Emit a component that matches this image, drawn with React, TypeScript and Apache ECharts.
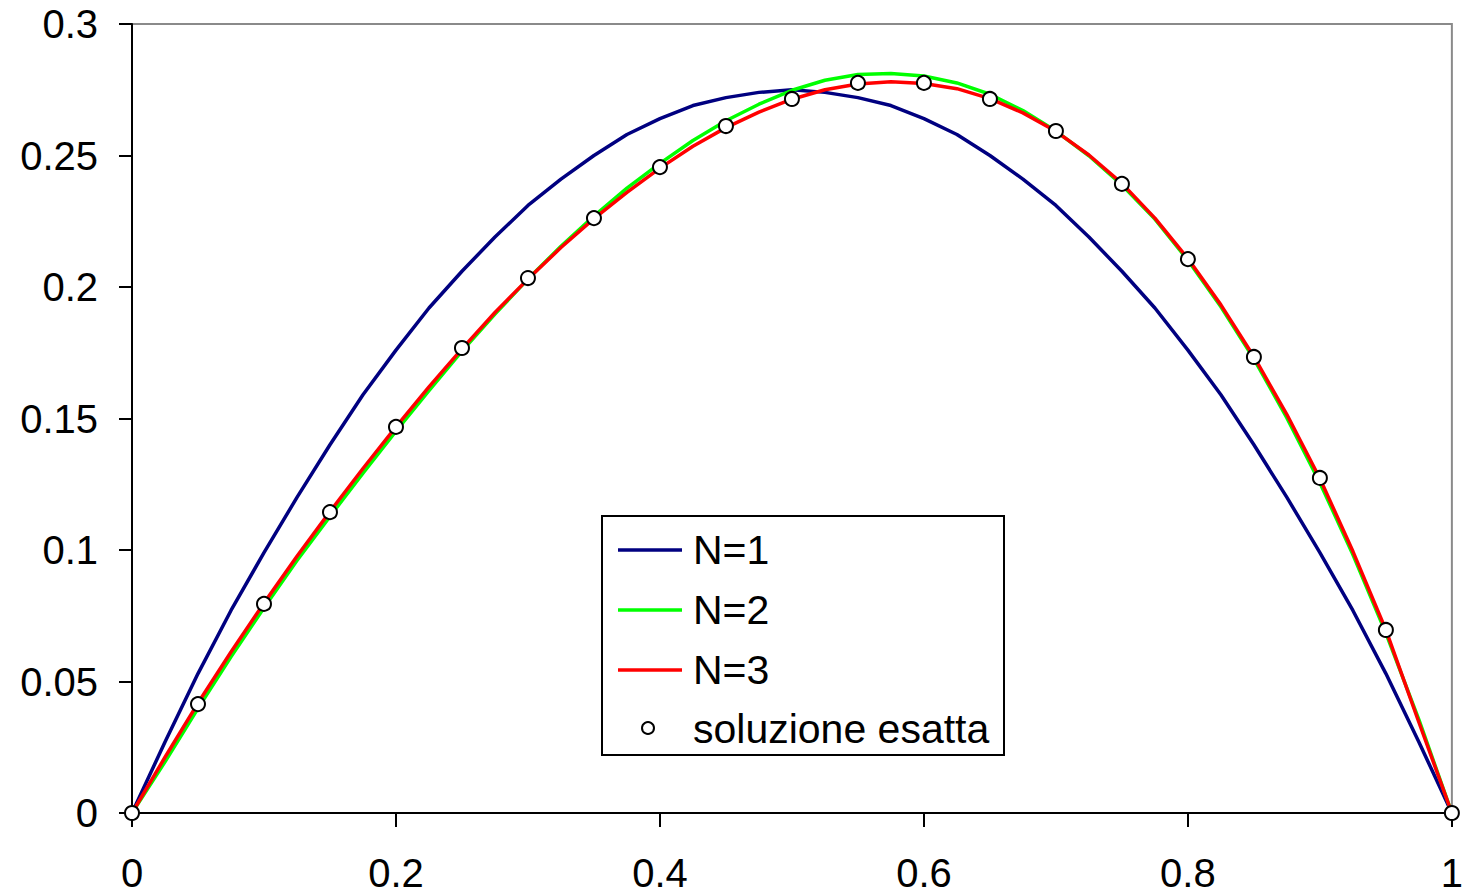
import React, { useEffect, useRef } from "react";
import * as echarts from "echarts";

const xs = [
  0, 0.025, 0.05, 0.075, 0.1, 0.125, 0.15, 0.175, 0.2, 0.225, 0.25, 0.275, 0.3, 0.325, 0.35, 0.375, 0.4,
  0.425, 0.45, 0.475, 0.5, 0.525, 0.55, 0.575, 0.6, 0.625, 0.65, 0.675, 0.7, 0.725, 0.75, 0.775, 0.8,
  0.825, 0.85, 0.875, 0.9, 0.925, 0.95, 0.975, 1,
];

const n1 = [
  0, 0.027, 0.053, 0.077, 0.099, 0.12, 0.14, 0.159, 0.176, 0.192, 0.206, 0.219, 0.231, 0.241, 0.25, 0.258,
  0.264, 0.269, 0.272, 0.274, 0.275, 0.274, 0.272, 0.269, 0.264, 0.258, 0.25, 0.241, 0.231, 0.219, 0.206,
  0.192, 0.176, 0.159, 0.14, 0.12, 0.099, 0.077, 0.053, 0.027, 0,
];

const n2 = [
  0, 0.0195, 0.0398, 0.0594, 0.078, 0.096, 0.1128, 0.1292, 0.1452, 0.1606, 0.1756, 0.1897, 0.203, 0.2155,
  0.227, 0.2376, 0.247, 0.2557, 0.2632, 0.2695, 0.2748, 0.2786, 0.2808, 0.2812, 0.2802, 0.2776, 0.2733,
  0.2671, 0.2593, 0.2499, 0.2388, 0.2258, 0.2102, 0.1925, 0.1727, 0.1502, 0.1256, 0.0983, 0.0684, 0.0355, 0,
];

const n3 = [
  0, 0.0212, 0.0418, 0.0612, 0.0798, 0.0976, 0.1146, 0.131, 0.1468, 0.162, 0.1765, 0.1903, 0.203, 0.215,
  0.226, 0.236, 0.2452, 0.2535, 0.2606, 0.2665, 0.2714, 0.275, 0.2772, 0.278, 0.2774, 0.2754, 0.2716,
  0.2662, 0.2592, 0.2502, 0.2394, 0.2262, 0.2108, 0.1932, 0.1735, 0.1515, 0.1272, 0.0995, 0.0696, 0.0345, 0,
];

const exactX = [0, 0.05, 0.1, 0.15, 0.2, 0.25, 0.3, 0.35, 0.4, 0.45, 0.5, 0.55, 0.6, 0.65, 0.7, 0.75, 0.8, 0.85, 0.9, 0.95, 1];
const exactY = [
  0, 0.0414, 0.0795, 0.1144, 0.1468, 0.1768, 0.2034, 0.2262, 0.2456, 0.2612, 0.2715, 0.2776, 0.2776,
  0.2715, 0.2593, 0.2392, 0.2106, 0.1734, 0.1274, 0.0696, 0,
];

const seriesNames = ["N=1", "N=2", "N=3", "soluzione esatta"];
const seriesColors = ["#000080", "#00ff00", "#ff0000"];

const FONT = "'Liberation Sans', Arial, sans-serif";

export default function App() {
  const ref = useRef<HTMLDivElement>(null);

  useEffect(() => {
    if (!ref.current) return;
    const chart = echarts.init(ref.current, undefined, { renderer: "svg" });
    const lines = [n1, n2, n3];

    const legendX = 602;
    const legendY = 516;
    const rowY = [550, 610, 670, 729];

    const legendGraphics: any[] = [
      {
        type: "rect",
        shape: { x: legendX, y: legendY, width: 402, height: 239 },
        style: { fill: "#fff", stroke: "#000", lineWidth: 2 },
        z: 100,
      },
    ];
    for (let i = 0; i < 3; i++) {
      legendGraphics.push({
        type: "line",
        shape: { x1: 618, y1: rowY[i], x2: 682, y2: rowY[i] },
        style: { stroke: seriesColors[i], lineWidth: 3.5 },
        z: 101,
      });
    }
    legendGraphics.push({
      type: "circle",
      shape: { cx: 648, cy: rowY[3] - 1, r: 6 },
      style: { fill: "#fff", stroke: "#000", lineWidth: 2 },
      z: 101,
    });
    for (let i = 0; i < 4; i++) {
      legendGraphics.push({
        type: "text",
        x: 693,
        y: rowY[i],
        style: {
          text: seriesNames[i],
          fill: "#000",
          font: `41px ${FONT}`,
          verticalAlign: "middle",
          align: "left",
        },
        z: 102,
      });
    }

    chart.setOption({
      animation: false,
      backgroundColor: "#fff",
      grid: {
        left: 132,
        width: 1328,
        top: 24,
        height: 789,
        show: true,
        borderColor: "#8a8a8a",
        borderWidth: 2,
        backgroundColor: "transparent",
      },
      xAxis: {
        type: "value",
        min: 0,
        max: 1,
        interval: 0.2,
        splitLine: { show: false },
        axisLine: { show: true, onZero: false, lineStyle: { color: "#000", width: 2 } },
        axisTick: { show: true, inside: false, length: 14, lineStyle: { color: "#000", width: 2 } },
        axisLabel: { color: "#000", fontSize: 40, fontFamily: FONT, margin: 40 },
      },
      yAxis: {
        type: "value",
        min: 0,
        max: 0.3,
        interval: 0.05,
        splitLine: { show: false },
        axisLine: { show: true, onZero: false, lineStyle: { color: "#000", width: 2 } },
        axisTick: { show: true, inside: false, length: 13, lineStyle: { color: "#000", width: 2 } },
        axisLabel: { color: "#000", fontSize: 40, fontFamily: FONT, margin: 34 },
      },
      series: [
        ...lines.map((arr, i) => ({
          name: seriesNames[i],
          type: "line",
          data: xs.map((x, j) => [x, arr[j]]),
          showSymbol: false,
          symbol: "none",
          smooth: false,
          lineStyle: { color: seriesColors[i], width: 3.5 },
          itemStyle: { color: seriesColors[i] },
          z: 2 + i,
        })),
        {
          name: seriesNames[3],
          type: "scatter",
          data: exactX.map((x, j) => [x, exactY[j]]),
          symbol: "circle",
          symbolSize: 14,
          itemStyle: { color: "#fff", borderColor: "#000", borderWidth: 2, opacity: 1 },
          z: 10,
          clip: false,
        },
      ],
      graphic: legendGraphics,
    });

    return () => {
      chart.dispose();
    };
  }, []);

  return (
    <div
      ref={ref}
      style={{ position: "fixed", left: 0, top: 0, width: 1466, height: 894, background: "#fff" }}
    />
  );
}
